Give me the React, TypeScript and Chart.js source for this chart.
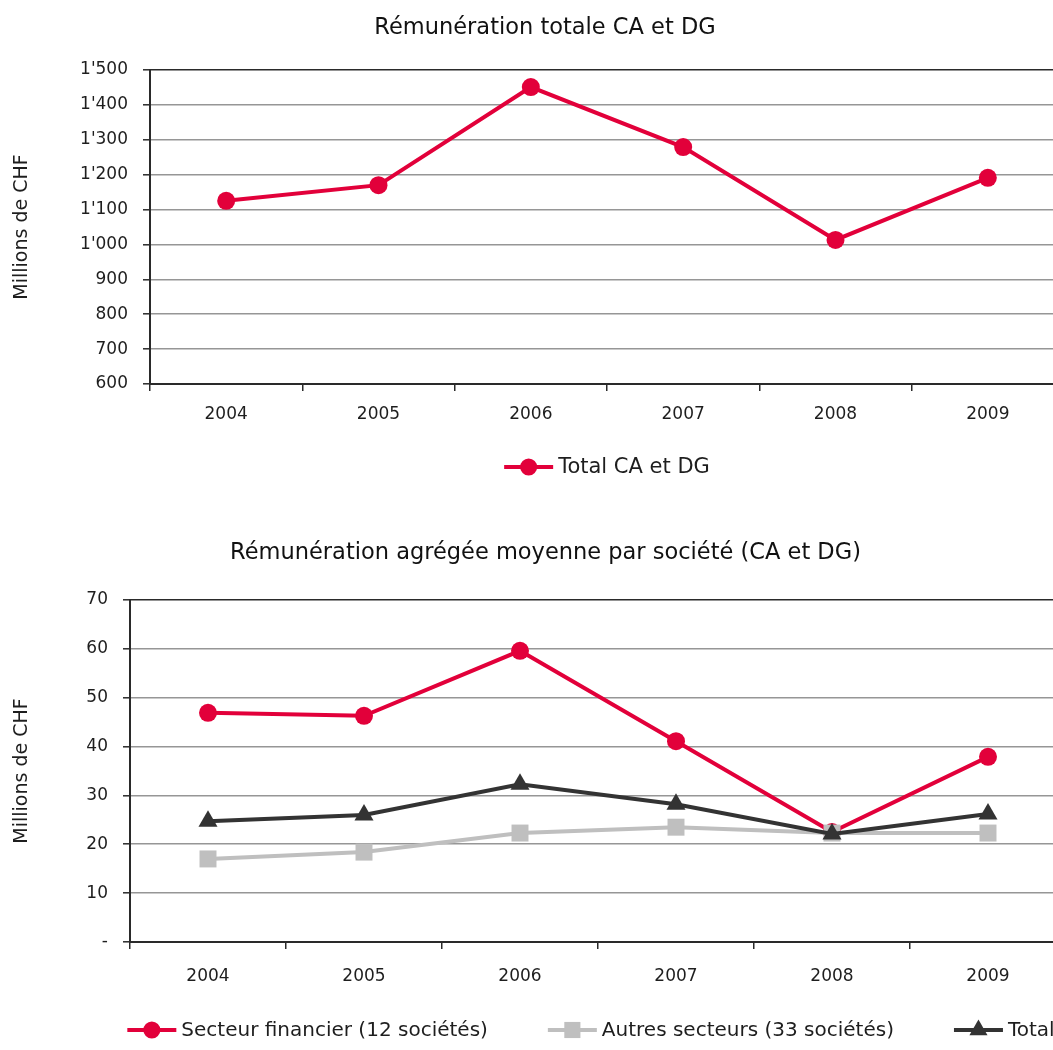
import React, { useEffect, useRef } from 'react';
import { Chart, registerables } from 'chart.js';

Chart.register(...registerables);

// ---------- data ----------
const years = ['2004', '2005', '2006', '2007', '2008', '2009'];

const totalCADG = [1125, 1170, 1451, 1279, 1013, 1191];

const secteurFinancier = [46.9, 46.3, 59.6, 41.1, 22.5, 37.9];
const autresSecteurs = [17.0, 18.4, 22.3, 23.5, 22.3, 22.3];
const totalMoyen = [24.7, 26.0, 32.3, 28.2, 22.1, 26.2];

const yTicks1 = [600, 700, 800, 900, 1000, 1100, 1200, 1300, 1400, 1500];
const yTickLabels1 = ['600', '700', '800', '900', "1'000", "1'100", "1'200", "1'300", "1'400", "1'500"];

const yTicks2 = [0, 10, 20, 30, 40, 50, 60, 70];
const yTickLabels2 = ['-', '10', '20', '30', '40', '50', '60', '70'];

const title1 = 'Rémunération totale CA et DG';
const title2 = 'Rémunération agrégée moyenne par société (CA et DG)';
const yTitle = 'Millions de CHF';

// ---------- styles ----------
const FONT = "'DejaVu Sans', sans-serif";
const RED = 'rgb(226,0,58)';
const GREY = 'rgb(191,191,191)';
const DARK = 'rgb(51,51,51)';
const TEXT = '#1e1e1e';
const GRID = '#969696';
const AXIS = '#2a2a2a';

function drawMarker(ctx: CanvasRenderingContext2D, style: string, x: number, y: number, r: number, color: string) {
  ctx.fillStyle = color;
  ctx.beginPath();
  if (style === 'circle') {
    ctx.arc(x, y, r, 0, Math.PI * 2);
  } else if (style === 'rect') {
    const s = Math.SQRT1_2 * r;
    ctx.rect(x - s, y - s, 2 * s, 2 * s);
  } else if (style === 'triangle') {
    let rad = 0;
    ctx.moveTo(x + Math.sin(rad) * r, y - Math.cos(rad) * r);
    rad += (2 * Math.PI) / 3;
    ctx.lineTo(x + Math.sin(rad) * r, y - Math.cos(rad) * r);
    rad += (2 * Math.PI) / 3;
    ctx.lineTo(x + Math.sin(rad) * r, y - Math.cos(rad) * r);
    ctx.closePath();
  }
  ctx.fill();
}

const lineLegend = {
  id: 'lineLegend',
  afterDraw(chart: any, _args: any, opts: any) {
    const { ctx, chartArea } = chart;
    ctx.save();
    ctx.font = `${opts.size}px ${FONT}`;
    const items = chart.data.datasets.map((ds: any) => ({
      ds,
      w: opts.lineLen + opts.textGap + ctx.measureText(ds.label).width,
    }));
    const total = items.reduce((s: number, it: any) => s + it.w, 0) + opts.itemGap * (items.length - 1);
    let x = (chartArea.left + chartArea.right) / 2 - total / 2 + (opts.shift || 0);
    const y = chartArea.bottom + opts.offsetY;
    for (const it of items) {
      const ds = it.ds;
      ctx.strokeStyle = ds.borderColor;
      ctx.lineWidth = ds.borderWidth;
      ctx.beginPath();
      ctx.moveTo(x, y);
      ctx.lineTo(x + opts.lineLen, y);
      ctx.stroke();
      drawMarker(ctx, ds.pointStyle, x + opts.lineLen / 2, y, ds.pointRadius * opts.markerScale, ds.borderColor);
      ctx.fillStyle = TEXT;
      ctx.textBaseline = 'middle';
      ctx.textAlign = 'left';
      ctx.fillText(ds.label, x + opts.lineLen + opts.textGap, y + 1);
      x += it.w + opts.itemGap;
    }
    ctx.restore();
  },
};

function tickFont(size: number) {
  return { family: FONT, size, weight: 'normal' as const };
}

function buildConfig(params: {
  datasets: any[];
  min: number;
  max: number;
  ticks: number[];
  labels: string[];
  title: string;
  height: number;
  padLeft: number;
  padRight: number;
  plotLeft: number;
  plotTop: number;
  plotBottom: number;
  titleCenter: number;
  xLabelPad: number;
  legendOffset: number;
  legendGap: number;
  legendSize: number;
  legendShift: number;
}) {
  const titleSize = 22.5;
  const titleLH = titleSize * 1.2;
  const titlePadTop = params.titleCenter - titleLH / 2;
  const titlePadBottom = params.plotTop - titlePadTop - titleLH;
  const yTitleSize = 19;
  return {
    type: 'line',
    data: { labels: years, datasets: params.datasets },
    options: {
      responsive: false,
      animation: false,
      events: [],
      layout: { padding: { left: params.padLeft, right: params.padRight, top: 0, bottom: 0 } },
      plugins: {
        legend: { display: false },
        tooltip: { enabled: false },
        title: {
          display: true,
          text: params.title,
          color: '#111',
          font: { family: FONT, size: titleSize, weight: 'normal', lineHeight: 1.2 },
          padding: { top: titlePadTop, bottom: titlePadBottom },
        },
        lineLegend: {
          size: params.legendSize,
          lineLen: 49,
          textGap: 5,
          itemGap: params.legendGap,
          offsetY: params.legendOffset,
          markerScale: 0.95,
          shift: params.legendShift,
        },
      },
      scales: {
        x: {
          offset: true,
          grid: {
            offset: true,
            drawOnChartArea: false,
            drawTicks: true,
            tickLength: 7,
            tickColor: AXIS,
            tickWidth: 1.5,
            lineWidth: 1.5,
          },
          border: { color: AXIS, width: 2 },
          ticks: { font: tickFont(17), color: TEXT, padding: params.xLabelPad, maxRotation: 0, autoSkip: false },
          afterFit: (s: any) => {
            s.height = params.height - params.plotBottom;
          },
        },
        y: {
          min: params.min,
          max: params.max,
          afterBuildTicks: (s: any) => {
            s.ticks = params.ticks.map((v) => ({ value: v }));
          },
          ticks: {
            font: tickFont(17),
            color: TEXT,
            padding: 15,
            callback: (v: any) => params.labels[params.ticks.indexOf(v)],
          },
          grid: {
            color: (c: any) => (c.tick && c.tick.value === params.max ? AXIS : GRID),
            lineWidth: 1.6,
            tickLength: 7,
            tickColor: AXIS,
            tickWidth: 1.5,
          },
          border: { color: AXIS, width: 2 },
          title: {
            display: true,
            text: yTitle,
            color: TEXT,
            font: { family: FONT, size: yTitleSize, weight: 'normal', lineHeight: 1.2 },
            padding: { top: 22 - params.padLeft - (yTitleSize * 1.2) / 2, bottom: 0 },
          },
          afterFit: (s: any) => {
            s.width = params.plotLeft - params.padLeft;
          },
        },
      },
    },
    plugins: [lineLegend],
  };
}

function ChartCanvas({ config, width, height, top }: { config: any; width: number; height: number; top: number }) {
  const ref = useRef<HTMLCanvasElement | null>(null);
  useEffect(() => {
    if (!ref.current) return;
    const chart = new Chart(ref.current, config);
    return () => chart.destroy();
  }, [config]);
  return (
    <canvas
      ref={ref}
      width={width}
      height={height}
      style={{ position: 'absolute', left: 0, top, width, height }}
    />
  );
}

const CANVAS_W = 1090;

const config1 = buildConfig({
  datasets: [
    {
      label: 'Total CA et DG',
      data: totalCADG,
      borderColor: RED,
      backgroundColor: RED,
      borderWidth: 4,
      pointStyle: 'circle',
      pointRadius: 9,
      pointBorderWidth: 0,
      pointBackgroundColor: RED,
      tension: 0,
    },
  ],
  min: 600,
  max: 1500,
  ticks: yTicks1,
  labels: yTickLabels1,
  title: title1,
  height: 500,
  padLeft: 26,
  padRight: CANVAS_W - 1064,
  plotLeft: 150,
  plotTop: 70,
  plotBottom: 384,
  titleCenter: 28,
  xLabelPad: 13,
  legendOffset: 83,
  legendGap: 60,
  legendSize: 21,
  legendShift: 0,
});

const config2 = buildConfig({
  datasets: [
    {
      label: 'Secteur financier (12 sociétés)',
      data: secteurFinancier,
      borderColor: RED,
      backgroundColor: RED,
      borderWidth: 4,
      pointStyle: 'circle',
      pointRadius: 9,
      pointBorderWidth: 0,
      pointBackgroundColor: RED,
      tension: 0,
      order: 3,
    },
    {
      label: 'Autres secteurs (33 sociétés)',
      data: autresSecteurs,
      borderColor: GREY,
      backgroundColor: GREY,
      borderWidth: 4,
      pointStyle: 'rect',
      pointRadius: 12,
      pointBorderWidth: 0,
      pointBackgroundColor: GREY,
      tension: 0,
      order: 2,
    },
    {
      label: 'Total',
      data: totalMoyen,
      borderColor: DARK,
      backgroundColor: DARK,
      borderWidth: 4,
      pointStyle: 'triangle',
      pointRadius: 11,
      pointBorderWidth: 0,
      pointBackgroundColor: DARK,
      tension: 0,
      order: 1,
    },
  ],
  min: 0,
  max: 70,
  ticks: yTicks2,
  labels: yTickLabels2,
  title: title2,
  height: 550,
  padLeft: 25,
  padRight: CANVAS_W - 1066,
  plotLeft: 130,
  plotTop: 100,
  plotBottom: 442,
  titleCenter: 53,
  xLabelPad: 17,
  legendOffset: 88,
  legendGap: 60,
  legendSize: 20,
  legendShift: -7,
});

export default function App() {
  return (
    <div
      style={{
        position: 'fixed',
        left: 0,
        top: 0,
        width: 1053,
        height: 1050,
        overflow: 'hidden',
        background: '#fff',
      }}
    >
      <ChartCanvas config={config1} width={CANVAS_W} height={500} top={0} />
      <ChartCanvas config={config2} width={CANVAS_W} height={550} top={500} />
    </div>
  );
}
